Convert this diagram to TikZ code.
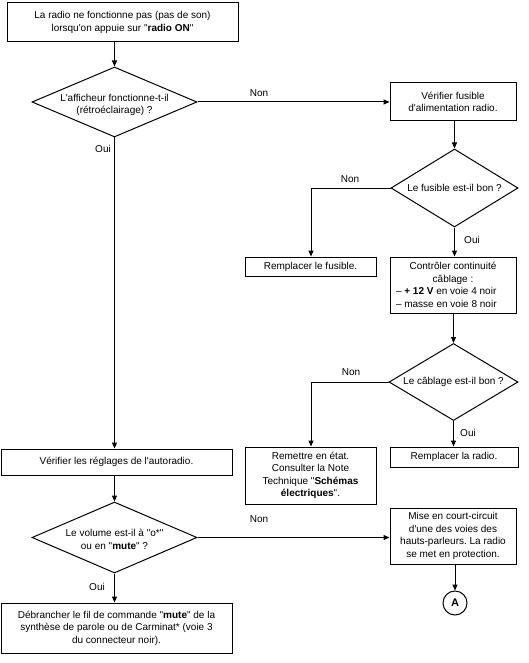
\documentclass[tikz,border=0pt]{standalone}
\usepackage{fontspec}
\setmainfont{Liberation Sans}[Ligatures=TeXOff]
\usetikzlibrary{shapes.geometric,arrows.meta}
\frenchspacing
\begin{document}
\begin{tikzpicture}[x=1pt,y=-1pt,
  every node/.style={font=\fontsize{10}{12.5}\selectfont\frenchspacing},
  box/.style={draw, line width=1pt, inner sep=0pt, align=center},
  dia/.style={draw, diamond, line width=1pt, inner sep=0pt},
  txt/.style={inner sep=0pt, align=center},
  arr/.style={line width=1pt, -{Triangle[length=6pt,width=5pt]}},
  lbl/.style={inner sep=0pt}]
\useasboundingbox (0,0) rectangle (528,663);

% left column
\node[box, minimum width=231pt, minimum height=39pt] (b1) at (122.5,22.5)
  {La radio ne fonctionne pas (pas de son)\\lorsqu'on appuie sur "\textbf{radio ON}"};
\node[dia, minimum width=165pt, minimum height=70pt] (d1) at (114.5,102) {};
\node[txt] (d1t) at (114.5,105) {L'afficheur fonctionne-t-il\\(rétroéclairage) ?};
\node[box, minimum width=231pt, minimum height=26pt] (b4) at (116.5,462)
  {Vérifier les réglages de l'autoradio.};
\node[dia, minimum width=165pt, minimum height=71pt] (d4) at (114.5,537.5) {};
\node[txt] (d4t) at (114.5,539.5) {Le volume est-il à "o*"\\ou en "\textbf{mute}" ?};
\node[box, minimum width=231pt, minimum height=50pt] (b5) at (116.5,628)
  {Débrancher le fil de commande "\textbf{mute}" de la\\synthèse de parole ou de Carminat* (voie 3\\du connecteur noir).};

% right column
\node[box, minimum width=126pt, minimum height=38pt] (b2) at (453,102)
  {Vérifier fusible\\d'alimentation radio.};
\node[dia, minimum width=127pt, minimum height=78pt] (d2) at (454.5,188) {};
\node[txt] (d2t) at (454.5,188) {Le fusible est-il bon ?};
\node[box, minimum width=126pt, minimum height=56pt] (b3) at (453,285)
  {Contrôler continuité\\câblage :\\\hbox to 114pt{– \textbf{+ 12 V} en voie 4 noir\hfil}\\\hbox to 114pt{– masse en voie 8 noir\hfil}};
\node[dia, minimum width=129pt, minimum height=77pt] (d3) at (453.5,382) {};
\node[txt] (d3t) at (453.5,382) {Le câblage est-il bon ?};
\node[box, minimum width=128pt, minimum height=20pt] (b6) at (454,457)
  {Remplacer la radio.};
\node[box, minimum width=126pt, minimum height=56pt] (b7) at (453,536)
  {Mise en court-circuit\\d'une des voies des\\hauts-parleurs. La radio\\se met en protection.};
\node[draw, circle, line width=1pt, minimum size=24pt, inner sep=0pt,
  font=\fontsize{11}{12}\selectfont\bfseries] (A) at (455,603) {A};

% middle column
\node[box, minimum width=131pt, minimum height=19pt] (r1) at (310.5,266.5)
  {Remplacer le fusible.};
\node[box, minimum width=131pt, minimum height=57pt] (r2) at (310.5,475.5)
  {Remettre en état.\\Consulter la Note\\Technique "\textbf{Schémas}\\\textbf{électriques}".};

% corner points
\coordinate (c2) at (311,188);
\coordinate (c3) at (311,382);

% connectors
\draw[arr] (d1.north |- b1.south) -- (d1.north);
\draw[arr] (d1.east) -- (d1.east -| b2.west);
\draw[arr] (d1.south) -- (d1.south |- b4.north);
\draw[arr] (b2.south -| d2.north) -- (d2.north);
\draw[arr] (d2.west) -- (c2) -- (c2 |- r1.north);
\draw[arr] (d2.south) -- (d2.south |- b3.north);
\draw[arr] (b3.south -| d3.north) -- (d3.north);
\draw[arr] (d3.west) -- (c3) -- (c3 |- r2.north);
\draw[arr] (d3.south) -- (d3.south |- b6.north);
\draw[arr] (b4.south -| d4.north) -- (d4.north);
\draw[arr] (d4.east) -- (d4.east -| b7.west);
\draw[arr] (d4.south) -- (d4.south |- b5.north);
\draw[arr] (b7.south -| A.north) -- (A.north);

% labels
\node[lbl] (l1) at (259,93) {Non};
\node[lbl] (l2) at (103,149) {Oui};
\node[lbl] (l3) at (350,179) {Non};
\node[lbl] (l4) at (472,240) {Oui};
\node[lbl] (l5) at (351,372) {Non};
\node[lbl] (l6) at (468,433) {Oui};
\node[lbl] (l7) at (259,519) {Non};
\node[lbl] (l8) at (97,587) {Oui};
\end{tikzpicture}
\end{document}
